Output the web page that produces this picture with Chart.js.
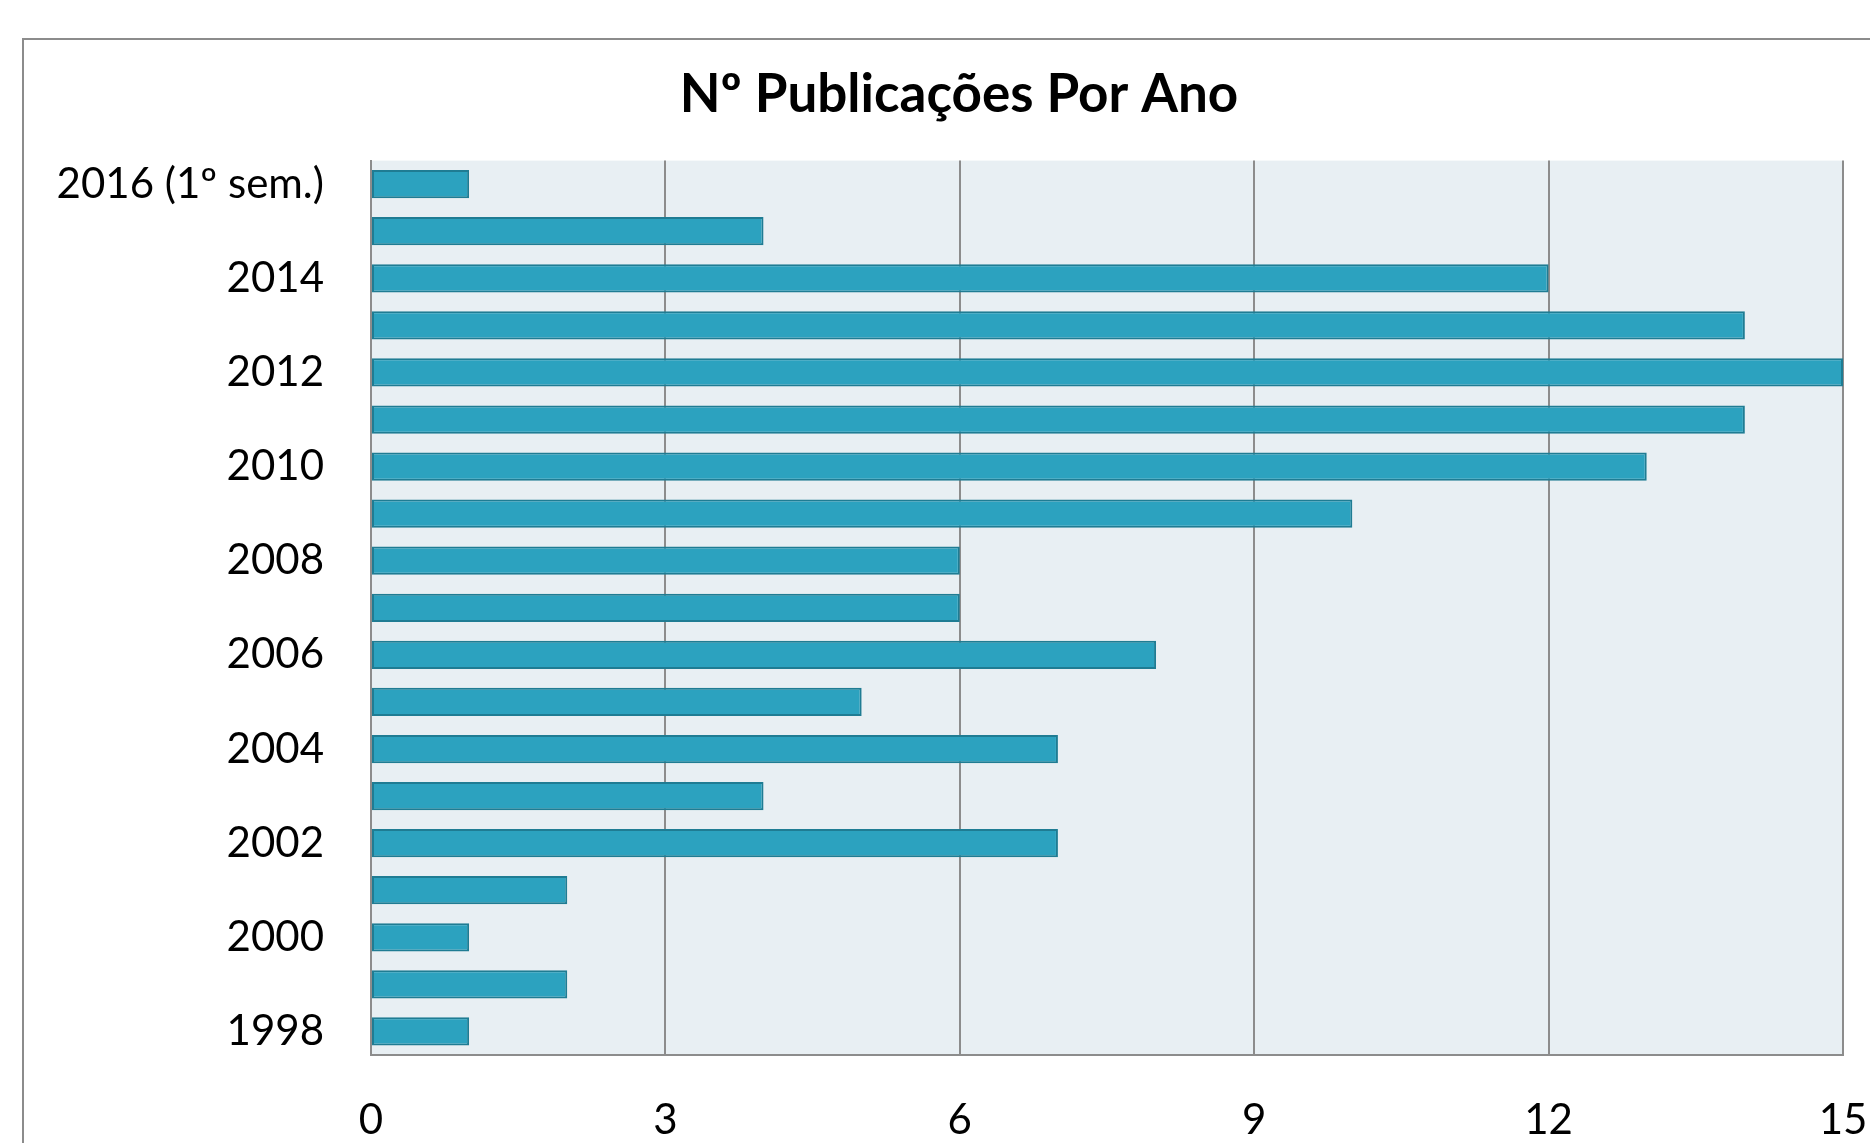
<!DOCTYPE html>
<html>
<head>
<meta charset="utf-8">
<script src="https://cdn.jsdelivr.net/npm/chart.js@4/dist/chart.umd.min.js"></script>
<style>
  html, body { margin: 0; padding: 0; background: #ffffff; }
  #wrap { width: 1870px; height: 1143px; position: relative; }
</style>
</head>
<body>
<div id="wrap"><canvas id="c" width="1870" height="1143"></canvas></div>
<script>
const title = "Nº Publicações Por Ano";
const categories = ["1998","1999","2000","2001","2002","2003","2004","2005","2006","2007","2008","2009","2010","2011","2012","2013","2014","2015","2016 (1º sem.)"];
const publications = [1,2,1,2,7,4,7,5,8,6,6,10,13,14,15,14,12,4,1];
const xTicks = [0,3,6,9,12,15];

const FONT = "Lato, 'Open Sans', sans-serif";

const frame = {
  id: 'frame',
  afterLayout(chart) {
    if (chart.titleBlock) {
      chart.titleBlock.left = 75;
      chart.titleBlock.right = 1843;
    }
  },
  beforeDraw(chart) {
    const ctx = chart.ctx, a = chart.chartArea;
    ctx.save();
    ctx.fillStyle = '#ffffff';
    ctx.fillRect(0, 0, chart.width, chart.height);
    ctx.strokeStyle = '#8c8c8c';
    ctx.lineWidth = 2;
    ctx.strokeRect(23, 39, 3000, 3000);
    ctx.fillStyle = '#e8eff3';
    ctx.fillRect(a.left, a.top, a.right - a.left, a.bottom - a.top);
    ctx.restore();
  }
};

new Chart(document.getElementById('c'), {
  type: 'bar',
  data: {
    labels: categories,
    datasets: [{
      data: publications,
      backgroundColor: '#2ca2bf',
      borderColor: '#1f7c93',
      borderWidth: 2,
      borderSkipped: false,
      barPercentage: 1,
      categoryPercentage: 0.6
    }]
  },
  options: {
    indexAxis: 'y',
    responsive: false,
    animation: false,
    layout: { padding: { left: 0, right: 27, top: 63, bottom: 0 } },
    plugins: {
      legend: { display: false },
      tooltip: { enabled: false },
      title: {
        display: true,
        text: title,
        color: '#000000',
        font: { family: FONT, size: 53, weight: 'bold', lineHeight: 1.2 },
        padding: { top: 0, bottom: 34 }
      }
    },
    scales: {
      y: {
        type: 'category',
        reverse: true,
        grid: { display: false, drawTicks: false },
        border: { display: true, color: '#8c8c8c', width: 2 },
        ticks: {
          autoSkip: false,
          color: '#000000',
          padding: 47,
          font: { family: FONT, size: 42 },
          callback: function(v, i) { return i % 2 === 0 ? categories[i] : ''; }
        },
        afterFit(scale) { scale.width = 371; scale.paddingTop = 0; scale.paddingBottom = 0; }
      },
      x: {
        type: 'linear',
        min: 0,
        max: 15,
        afterBuildTicks(scale) { scale.ticks = xTicks.map(v => ({ value: v })); },
        grid: { color: '#8c8c8c', lineWidth: 2, drawTicks: false },
        border: { display: true, color: '#8c8c8c', width: 2 },
        ticks: {
          color: '#000000',
          padding: 40,
          font: { family: FONT, size: 42 }
        },
        afterFit(scale) { scale.height = 88; scale.paddingLeft = 0; scale.paddingRight = 0; }
      }
    }
  },
  plugins: [frame]
});
</script>
</body>
</html>
